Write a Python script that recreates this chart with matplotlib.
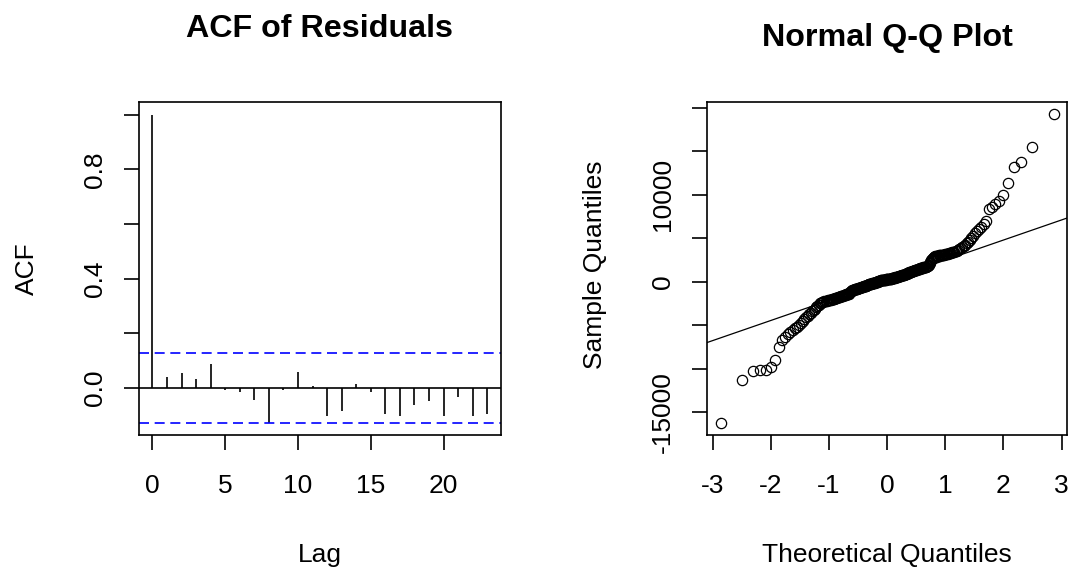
import matplotlib
matplotlib.use("Agg")
import matplotlib.pyplot as plt
import numpy as np
from statistics import NormalDist

plt.rcParams['font.family'] = ['Liberation Sans', 'DejaVu Sans']
plt.rcParams['font.size'] = 19
plt.rcParams['axes.unicode_minus'] = False

# ACF of residuals (lags 0..23), series length used for the CI
lags = np.arange(24)
acf_vals = [1.0, 0.040, 0.053, 0.034, 0.086, -0.009, -0.016, -0.043, -0.129, -0.009,
            0.059, 0.009, -0.104, -0.086, 0.016, -0.016, -0.094, -0.104, -0.061, -0.049,
            -0.104, -0.034, -0.104, -0.094]
n_obs = 238
acf_xticks = [0, 5, 10, 15, 20]
acf_yticks = [0.0, 0.2, 0.4, 0.6, 0.8, 1.0]
acf_ylabels = ['0.0', '', '0.4', '', '0.8', '']

# residuals (sorted)
residuals = [
    -16200, -11350, -10250, -10200, -10150, -9800, -9000, -7450, -6750, -6400,
    -6050, -5800, -5600, -5350, -5150, -4950, -4700, -4500, -4300,
    -4100, -3900, -3700, -3550, -3400, -3250, -3100, -2950,
    -2800, -2650, -2500, -2400, -2330,
    -2280, -2240, -2200, -2170, -2140, -2120,
    -2090, -2060, -2030, -2000, -1970, -1940,
    -1900, -1870, -1830, -1790, -1760, -1720,
    -1690, -1660, -1620, -1590, -1550, -1520, -1490, -1460,
    -1430, -1400, -1370, -1300, -1200, -1120, -1060,
    -1000, -960, -920, -880, -860, -840, -820, -800,
    -770, -740, -710, -680, -650, -620, -590, -560, -530,
    -500, -480, -460, -440, -410, -380, -350, -320, -290,
    -260, -240, -220, -200, -180, -160, -140, -120, -100,
    -70, -40, -10, 20, 50, 80, 100, 120, 140,
    160, 175, 190, 205, 215, 225, 235, 245, 255, 265,
    275, 290, 305, 320, 335, 350, 365, 380, 400,
    420, 440, 460, 480, 500, 520, 540, 560, 580, 600,
    620, 645, 670, 695, 720, 745, 770, 795, 820,
    850, 880, 910, 940, 970, 1000, 1030, 1060, 1090,
    1120, 1150, 1180, 1210, 1240, 1270, 1300, 1330, 1360,
    1390, 1420, 1450, 1480, 1510, 1540, 1570, 1600,
    1630, 1660, 1680, 1700, 1715, 1730, 1750,
    1850, 1950, 2100, 2300, 2500, 2650, 2750, 2820,
    2880, 2920, 2950, 2980, 3000, 3020,
    3040, 3060, 3080, 3100, 3120, 3140,
    3160, 3190, 3220, 3260, 3300, 3350,
    3380, 3420, 3460, 3500, 3560,
    3650, 3750, 3850, 3950,
    4100, 4250, 4400, 4600,
    4800, 5050, 5300,
    5550, 5800, 6050,
    6300, 6600, 6950,
    8300, 8600, 8950, 9300, 10000, 11300, 13150, 13700, 15450, 19250,
]
qq_xticks = [-3, -2, -1, 0, 1, 2, 3]
qq_yticks = [-15000, -10000, -5000, 0, 5000, 10000, 15000, 20000]
qq_ylabels = ['-15000', '', '', '0', '', '10000', '', '']


def r_range(lo, hi):
    pad = 0.04 * (hi - lo)
    return lo - pad, hi + pad


def style_box(ax):
    for s in ax.spines.values():
        s.set_linewidth(1.2)
    ax.tick_params(direction='out', length=10.8, width=1.2, colors='black')
    ax.tick_params(axis='x', pad=17)
    ax.tick_params(axis='y', pad=12.5)


fig = plt.figure(figsize=(10.7, 5.7), dpi=100)

# ---- ACF panel ----
ax1 = fig.add_axes([0.1299, 0.2368, 0.3380, 0.5837])
ci = 1.96 / np.sqrt(n_obs)
ax1.vlines(lags, 0, acf_vals, colors='black', linewidth=1.2)
ax1.axhline(0, color='black', linewidth=1.2)
ax1.axhline(ci, color='#0000ff', linewidth=1.2, dashes=(6, 3.4))
ax1.axhline(-ci, color='#0000ff', linewidth=1.2, dashes=(6, 3.4))
ax1.set_xlim(*r_range(lags.min(), lags.max()))
ax1.set_ylim(*r_range(-ci, 1.0))
ax1.set_xticks(acf_xticks)
ax1.set_yticks(acf_yticks, acf_ylabels, rotation=90, va='center')
style_box(ax1)
ax1.text(0.5, 1.196, 'ACF of Residuals', transform=ax1.transAxes, ha='center',
         va='baseline', fontsize=23.2, fontweight='bold')
fig.text(0.1299 + 0.3380 / 2, 0.014, 'Lag', ha='center', va='baseline')
fig.text(0.0318, 0.5286, 'ACF', rotation=90, rotation_mode='anchor',
         ha='center', va='baseline')

# ---- Normal Q-Q panel ----
ax2 = fig.add_axes([0.6610, 0.2368, 0.3362, 0.5845])
sample = np.sort(np.array(residuals, dtype=float))
n = len(sample)
nd = NormalDist()
theo = np.array([nd.inv_cdf((i - 0.5) / n) for i in range(1, n + 1)])
ax2.plot(theo, sample, linestyle='none', marker='o', markersize=7.4,
         markerfacecolor='none', markeredgecolor='black', markeredgewidth=0.9)
# qqline through the quartiles
q1, q3 = np.quantile(sample, [0.25, 0.75])
z1, z3 = nd.inv_cdf(0.25), nd.inv_cdf(0.75)
slope = (q3 - q1) / (z3 - z1)
icept = q1 - slope * z1
ax2.axline((0, icept), slope=slope, color='black', linewidth=0.9)
ax2.set_xlim(*r_range(theo.min(), theo.max()))
ax2.set_ylim(*r_range(sample.min(), sample.max()))
ax2.set_xticks(qq_xticks)
ax2.set_yticks(qq_yticks, qq_ylabels, rotation=90, va='center')
style_box(ax2)
ax2.text(0.5, 1.168, 'Normal Q-Q Plot', transform=ax2.transAxes, ha='center',
         va='baseline', fontsize=23.2, fontweight='bold')
fig.text(0.6610 + 0.3362 / 2, 0.0145, 'Theoretical Quantiles', ha='center', va='baseline')
fig.text(0.5626, 0.535, 'Sample Quantiles', rotation=90, rotation_mode='anchor',
         ha='center', va='baseline')

fig.savefig('out.png', dpi=100, facecolor='white')
